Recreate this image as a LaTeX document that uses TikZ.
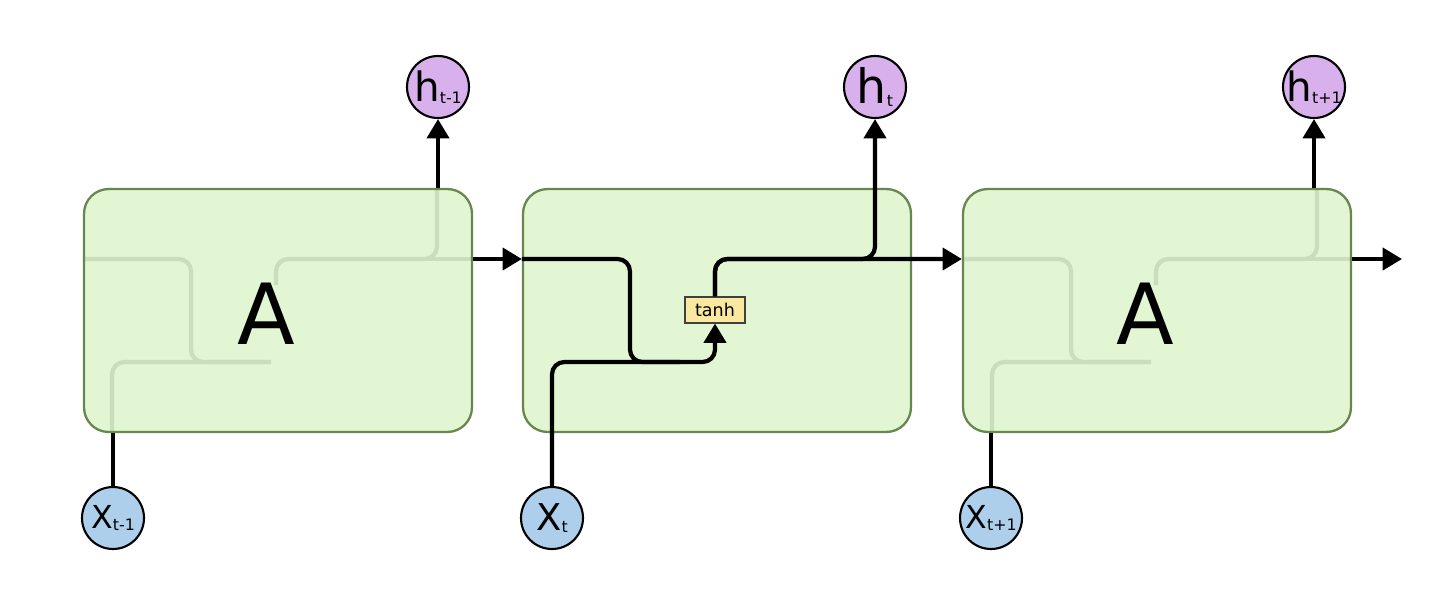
\documentclass[tikz,border=0pt]{standalone}
\usepackage{fontspec}
\setmainfont{DejaVu Sans}
\usepackage{tikz}
\usetikzlibrary{arrows.meta,positioning}
\definecolor{cellg}{RGB}{223,245,207}
\definecolor{celledge}{RGB}{104,134,80}
\definecolor{hpur}{RGB}{216,177,236}
\definecolor{xblu}{RGB}{174,207,236}
\definecolor{tanhy}{RGB}{250,232,160}
\newcommand{\cirlbl}[3]{\makebox[0pt][c]{{\fontsize{#1}{#1}\selectfont #2}\raisebox{-1.5pt}{\fontsize{9}{9}\selectfont #3}}}

\begin{document}
\begin{tikzpicture}[x=0.02cm,y=-0.02cm,
  cell/.style={draw=celledge,line width=1.3pt,fill=cellg,fill opacity=0.91,rounded corners=14pt,minimum width=7.76cm,minimum height=4.86cm},
  bigA/.style={font=\fontsize{48}{48}\selectfont},
  hnode/.style={circle,draw,line width=1.2pt,fill=hpur,minimum size=1.24cm,inner sep=0pt},
  xnode/.style={circle,draw,line width=1.2pt,fill=xblu,minimum size=1.24cm,inner sep=0pt},
  layer/.style={draw=black!75,fill=tanhy,line width=0.6pt,inner sep=0pt,minimum width=1.2cm,minimum height=0.52cm,font=\fontsize{10}{10}\selectfont},
  flow/.style={line width=2.4pt,rounded corners=7pt},
  arr/.style={flow,-{Triangle[length=11pt,width=12.5pt]}}]
  \useasboundingbox (0,0) rectangle (1456,602);
  % faint inner wiring of the two outer cells
  \foreach \ox in {84,964} {
    \draw[flow] (\ox,259) -- ++(107,0) -- ++(0,103) -- ++(80,0);
    \draw[flow] (\ox+28,432) -- ++(0,-70) -- ++(158,0);
    \draw[flow] (\ox+192,285) -- ++(0,-26) -- ++(161,0) -- ++(0,-70);
    \draw[flow] (\ox+340,259) -- ++(48,0);
  }
  \node[cell] (A1) at (278,310.5) {};
  \node[cell] (A2) at (717,310.5) {};
  \node[cell] (A3) at (1157,310.5) {};
  \node[bigA] (lblA1) at (266,314) {A};
  \node[bigA] (lblA3) at (1145,314) {A};
  \node[layer] (tanh) at (715,310) {tanh};
  \node[hnode] (h1) at (438,87) {\cirlbl{23}{h}{t-1}};
  \node[hnode] (h2) at (875,87) {\cirlbl{27}{h}{t}};
  \node[hnode] (h3) at (1314,87) {\cirlbl{23}{h}{t+1}};
  \node[xnode] (x1) at (113,518) {\cirlbl{18}{X}{t-1}};
  \node[xnode] (x2) at (552,518) {\cirlbl{21}{X}{t}};
  \node[xnode] (x3) at (991,518) {\cirlbl{18}{X}{t+1}};
  \coordinate (row) at (0,259);
  \coordinate (dip) at (630,362);
  \coordinate (join) at (680,362);
  \coordinate (bot) at (715,362);
  \coordinate (out) at (1402,259);
  % outer cells
  \draw[flow] (x1.north) -- (x1.north |- A1.south);
  \draw[flow] (x3.north) -- (x3.north |- A3.south);
  \draw[arr] (h1 |- A1.north) -- (h1.south);
  \draw[arr] (h3 |- A3.north) -- (h3.south);
  \draw[arr] (A1.east |- row) -- (A2.west |- row);
  \draw[arr] (A3.east |- row) -- (out);
  % middle cell
  \draw[flow] (A2.west |- row) -| (dip) -- (join);
  \draw[arr] (x2.north) |- (bot) -- (tanh.south);
  \draw[arr] (tanh.north) |- (h2 |- row) -- (h2.south);
  \draw[arr] (tanh.north) |- (A3.west |- row);
\end{tikzpicture}
\end{document}
